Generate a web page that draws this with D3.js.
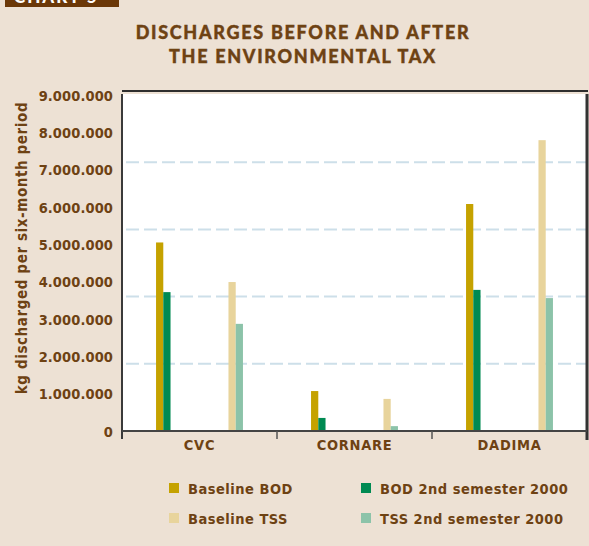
<!DOCTYPE html>
<html>
<head>
<meta charset="utf-8">
<script src="https://cdn.jsdelivr.net/npm/d3@7"></script>
<style>
  body { margin: 0; background: #ede1d4; }
  svg { display: block; }
  .cond { font-family: "DejaVu Sans Condensed", "DejaVu Sans", sans-serif; font-stretch: condensed; font-weight: bold; }
</style>
</head>
<body>
<svg id="chart" width="589" height="546"></svg>
<script>
// data
const categories = ["CVC", "CORNARE", "DADIMA"];
const baselineBOD = [5050000, 1070000, 6080000];
const bod2000 = [3720000, 350000, 3780000];
const baselineTSS = [3990000, 860000, 7790000];
const tss2000 = [2870000, 130000, 3560000];
const yTicks = [0, 1000000, 2000000, 3000000, 4000000, 5000000, 6000000, 7000000, 8000000, 9000000];
const gridValues = [1800000, 3600000, 5400000, 7200000];
const seriesNames = ["Baseline BOD", "BOD 2nd semester 2000", "Baseline TSS", "TSS 2nd semester 2000"];
const seriesColors = ["#c5a200", "#008a52", "#e8d49c", "#8cc3a9"];

const brown = "#6e4213";
const svg = d3.select("#chart");

const plot = {left: 122, right: 587, top: 94, bottom: 431};

const x = d3.scaleBand().domain(categories).range([plot.left, plot.right]);
const group = d3.scaleBand().domain(["BOD", "TSS"]).range([0, x.bandwidth()])
  .paddingInner(0.8).paddingOuter(0.47);
const sub = d3.scaleBand().domain([0, 1]).range([0, group.bandwidth()]);
const y = d3.scaleLinear().domain([0, 9000000]).range([plot.bottom, plot.top + 1]);

const fmt = d3.formatLocale({decimal: ",", thousands: ".", grouping: [3], currency: ["", ""]}).format(",d");

// chart tag at the top-left, cut off by the page edge
svg.append("rect").attr("x", 5).attr("y", 0).attr("width", 114).attr("height", 7).attr("fill", "#6b3808");
svg.append("text").attr("x", 14).attr("y", 3)
  .attr("fill", "#fff").attr("font-family", "Lato, sans-serif").attr("font-weight", 900)
  .attr("font-size", 17).attr("letter-spacing", 2).text("CHART 5");

// title
const title = svg.append("text")
  .attr("text-anchor", "middle")
  .attr("fill", brown)
  .attr("stroke", brown).attr("stroke-width", 0.4)
  .attr("font-family", "Lato, 'Open Sans', sans-serif")
  .attr("font-weight", 900)
  .attr("font-size", 18)
  .attr("letter-spacing", 1.7);
title.append("tspan").attr("x", 303).attr("y", 39).text("DISCHARGES BEFORE AND AFTER");
title.append("tspan").attr("x", 303).attr("y", 63).text("THE ENVIRONMENTAL TAX");

// plot frame
svg.append("line").attr("x1", plot.left).attr("x2", plot.right + 1).attr("y1", 91).attr("y2", 91)
  .attr("stroke", "#2e2e2e").attr("stroke-width", 2);
svg.append("rect").attr("x", plot.left).attr("y", plot.top).attr("width", plot.right - plot.left)
  .attr("height", plot.bottom - plot.top).attr("fill", "#fff");

// dashed gridlines
svg.append("g").selectAll("line").data(gridValues).join("line")
  .attr("x1", plot.left + 4).attr("x2", plot.right)
  .attr("y1", d => y(d)).attr("y2", d => y(d))
  .attr("stroke", "#cddfe9").attr("stroke-width", 2).attr("stroke-dasharray", "13 5");

// bars
const rows = categories.map((c, i) => ({
  cat: c,
  groups: [
    {key: "BOD", vals: [baselineBOD[i], bod2000[i]], cols: [seriesColors[0], seriesColors[1]]},
    {key: "TSS", vals: [baselineTSS[i], tss2000[i]], cols: [seriesColors[2], seriesColors[3]]}
  ]
}));
const catG = svg.append("g").selectAll("g").data(rows).join("g")
  .attr("transform", d => `translate(${x(d.cat)},0)`);
const grpG = catG.selectAll("g").data(d => d.groups).join("g")
  .attr("transform", d => `translate(${group(d.key)},0)`);
grpG.selectAll("rect").data(d => d.vals.map((v, j) => ({v, j, col: d.cols[j]}))).join("rect")
  .attr("x", d => sub(d.j))
  .attr("width", sub.bandwidth())
  .attr("y", d => y(d.v))
  .attr("height", d => y(0) - y(d.v))
  .attr("fill", d => d.col);

// frame sides
svg.append("line").attr("x1", plot.left).attr("x2", plot.left).attr("y1", plot.top).attr("y2", plot.bottom + 8)
  .attr("stroke", "#3a3a3a").attr("stroke-width", 2);
svg.append("line").attr("x1", plot.right).attr("x2", plot.right).attr("y1", plot.top).attr("y2", plot.bottom + 9)
  .attr("stroke", "#333").attr("stroke-width", 3);
svg.append("line").attr("x1", plot.left).attr("x2", plot.right).attr("y1", plot.bottom).attr("y2", plot.bottom)
  .attr("stroke", "#444").attr("stroke-width", 2);
// category boundary ticks
svg.append("g").selectAll("line").data(categories.slice(1)).join("line")
  .attr("x1", d => x(d)).attr("x2", d => x(d)).attr("y1", plot.bottom).attr("y2", plot.bottom + 8)
  .attr("stroke", "#555").attr("stroke-width", 1.5);

// y axis labels
const yAxis = svg.append("g").attr("transform", `translate(${plot.left - 9},0)`)
  .call(d3.axisLeft(y).tickValues(yTicks).tickSize(0).tickPadding(0).tickFormat(fmt));
yAxis.select(".domain").remove();
yAxis.selectAll("text").attr("class", "cond").attr("font-size", 14.5).attr("letter-spacing", 0.1)
  .attr("fill", brown).attr("dy", "0.35em");

// x axis labels
const xAxis = svg.append("g").attr("transform", `translate(0,${plot.bottom})`)
  .call(d3.axisBottom(x).tickSize(0).tickPadding(9));
xAxis.select(".domain").remove();
xAxis.selectAll("text").attr("class", "cond").attr("font-size", 14.5).attr("letter-spacing", 0.7)
  .attr("fill", brown);

// y title
svg.append("text").attr("class", "cond")
  .attr("transform", "translate(27,248) rotate(-90)")
  .attr("text-anchor", "middle").attr("font-size", 15).attr("letter-spacing", 0.6)
  .attr("fill", brown).text("kg discharged per six-month period");

// legend
const legendPos = [[169, 488], [361, 488], [169, 518], [361, 518]];
const leg = svg.append("g").selectAll("g").data(seriesNames).join("g")
  .attr("transform", (d, i) => `translate(${legendPos[i][0]},${legendPos[i][1]})`);
leg.append("rect").attr("x", 0).attr("y", -5).attr("width", 10).attr("height", 10)
  .attr("fill", (d, i) => seriesColors[i]);
leg.append("text").attr("class", "cond").attr("x", 19).attr("y", 6)
  .attr("font-size", 14.5).attr("letter-spacing", 0.5).attr("fill", brown).text(d => d);
</script>
</body>
</html>
